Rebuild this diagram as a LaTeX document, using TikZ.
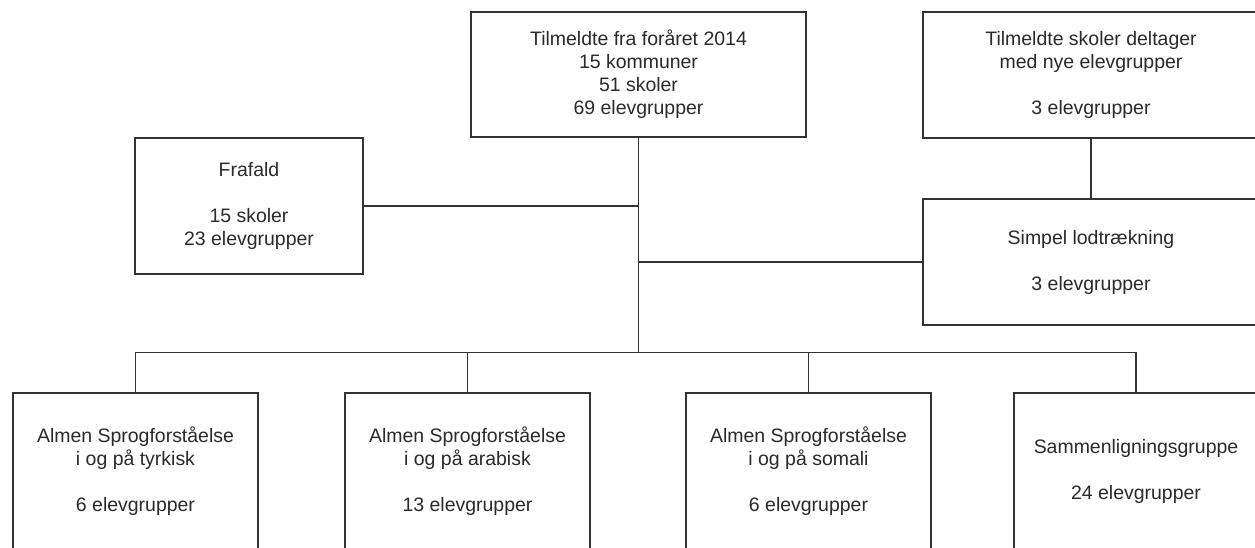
\documentclass[tikz,border=0pt]{standalone}
\usepackage{fontspec}
\setmainfont{Liberation Sans}
\definecolor{lineg}{HTML}{333333}
\definecolor{textg}{HTML}{2A2A2A}
\tikzset{
  box/.style={draw=lineg, line width=1.4pt, fill=white, align=center, text=textg,
    font=\fontsize{14.6}{17.25}\selectfont, inner sep=0pt},
  conn/.style={draw=lineg, line width=1.3pt},
}
\begin{document}
\begin{tikzpicture}[x=0.75pt, y=-0.75pt]
\useasboundingbox (0,0) rectangle (1255,548);
\clip (0,0) rectangle (1255,548);
\fill[white] (0,0) rectangle (1255,548);

\node[box, minimum width=251.25pt, minimum height=93.75pt] (top) at (638.5,74.5)
  {Tilmeldte fra foråret 2014\\15 kommuner\\51 skoler\\69 elevgrupper};
\node[box, minimum width=252pt, minimum height=94.5pt] (tr) at (1091,75)
  {Tilmeldte skoler deltager\\med nye elevgrupper\\[17.25pt]3 elevgrupper};
\node[box, minimum width=171pt, minimum height=102pt] (fra) at (249,206)
  {Frafald\\[17.25pt]15 skoler\\23 elevgrupper};
\node[box, minimum width=252pt, minimum height=94.5pt] (sim) at (1091,262)
  {Simpel lodtrækning\\[17.25pt]3 elevgrupper};

\node[box, minimum width=183.75pt, minimum height=117.75pt] (b1) at (135.5,471.5)
  {Almen Sprogforståelse\\i og på tyrkisk\\[17.25pt]6 elevgrupper};
\node[box, minimum width=183.75pt, minimum height=117.75pt] (b2) at (467.5,471.5)
  {Almen Sprogforståelse\\i og på arabisk\\[17.25pt]13 elevgrupper};
\node[box, minimum width=183.75pt, minimum height=117.75pt] (b3) at (808.5,471.5)
  {Almen Sprogforståelse\\i og på somali\\[17.25pt]6 elevgrupper};
\node[box, minimum width=183pt, minimum height=117.75pt] (b4) at (1136,471.5)
  {Sammenligningsgruppe\\[17.25pt]24 elevgrupper};

\coordinate (j) at (638.5,352.5);

\draw[conn] (top.south) -- (j);
\draw[conn] (fra.east) -- (fra.east -| top.south);
\draw[conn] (sim.west) -- (sim.west -| top.south);
\draw[conn] (tr.south) -- (sim.north);
\draw[conn] (b1.north |- j) -- (b4.north |- j);
\draw[conn] (b1.north) -- (b1.north |- j);
\draw[conn] (b2.north) -- (b2.north |- j);
\draw[conn] (b3.north) -- (b3.north |- j);
\draw[conn] (b4.north) -- (b4.north |- j);
\end{tikzpicture}
\end{document}
